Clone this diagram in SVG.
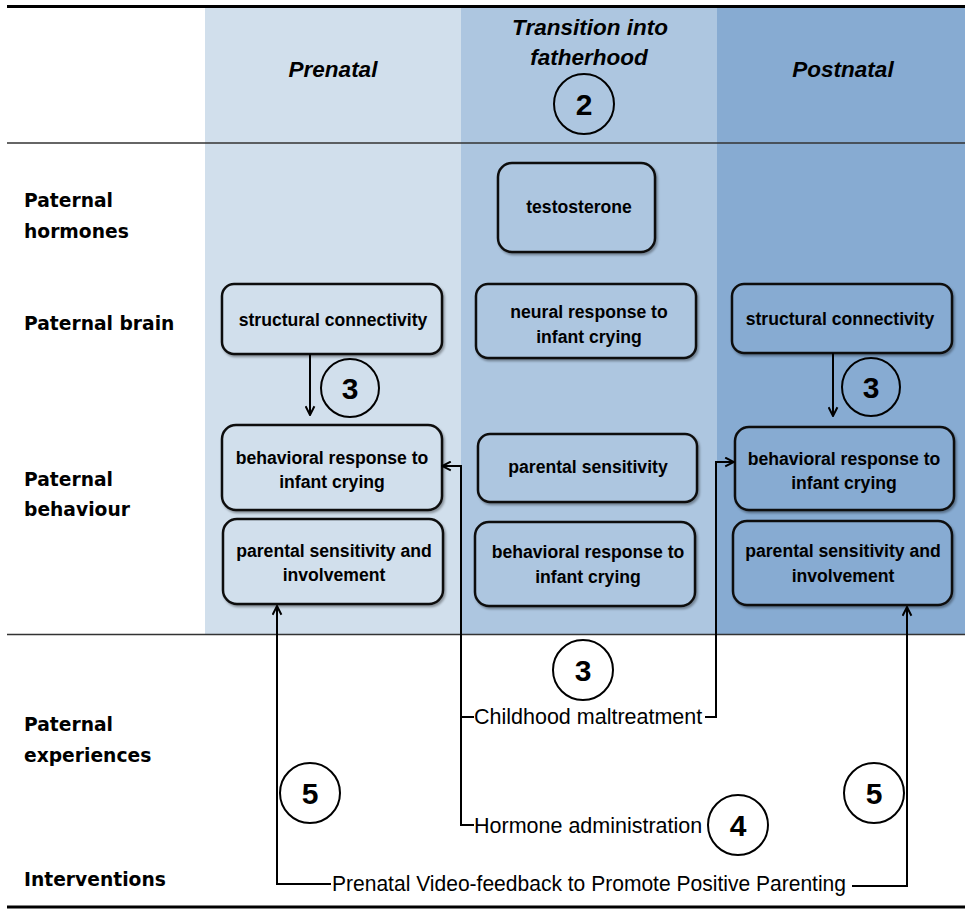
<svg xmlns="http://www.w3.org/2000/svg" width="965" height="909" viewBox="0 0 965 909">
<defs>
<style>
.hd{font-family:"Liberation Sans",Arial,sans-serif;font-weight:bold;font-style:italic;font-size:22.5px;fill:#000;text-anchor:middle}
.lb{font-family:"DejaVu Sans",Verdana,sans-serif;font-weight:bold;font-size:18.7px;fill:#000}
.bx{stroke:#111;stroke-width:2.5}
.bt{font-family:"Liberation Sans",Arial,sans-serif;font-weight:bold;font-size:17.6px;fill:#000;text-anchor:middle}
.ex{font-family:"Liberation Sans",Arial,sans-serif;font-size:21.5px;fill:#000}
.cn{fill:none;stroke:#000;stroke-width:2}
.ci{fill:none;stroke:#000;stroke-width:2}
.cl{font-family:"Liberation Sans",Arial,sans-serif;font-weight:bold;font-size:30px;fill:#000;text-anchor:middle}
.p1{fill:#D1DFEC}.p2{fill:#ADC6E0}.p3{fill:#87ABD2}
</style>
<filter id="sh" x="-10%" y="-10%" width="125%" height="130%">
<feDropShadow dx="1.5" dy="2" stdDeviation="1.2" flood-color="#000" flood-opacity="0.35"/>
</filter>
<marker id="ah" viewBox="0 0 10 10" refX="9" refY="5" markerWidth="11" markerHeight="11" markerUnits="userSpaceOnUse" orient="auto">
<path d="M1,1 L9,5 L1,9" fill="none" stroke="#000" stroke-width="1.8"/>
</marker>
</defs>

<g id="background">
<rect x="205" y="8" width="256" height="626" class="p1"/>
<rect x="461" y="8" width="256" height="626" class="p2"/>
<rect x="717" y="8" width="248" height="626" class="p3"/>
<line x1="7" y1="6.5" x2="965" y2="6.5" stroke="#000" stroke-width="3"/>
<line x1="7" y1="143" x2="965" y2="143" stroke="#333" stroke-width="1.5"/>
<line x1="7" y1="634.5" x2="965" y2="634.5" stroke="#333" stroke-width="1.5"/>
<line x1="7" y1="907" x2="965" y2="907" stroke="#000" stroke-width="3"/>
</g>

<g id="headers">
<text class="hd" x="333" y="77">Prenatal</text>
<text class="hd" x="590" y="35">Transition into</text>
<text class="hd" x="589" y="65">fatherhood</text>
<text class="hd" x="843" y="77">Postnatal</text>
<circle class="ci" cx="584" cy="104" r="30"/>
<text class="cl" x="584" y="115">2</text>
</g>

<g id="row-labels">
<text class="lb" x="24" y="207">Paternal</text>
<text class="lb" x="24" y="238">hormones</text>
<text class="lb" x="24" y="330">Paternal brain</text>
<text class="lb" x="24" y="486">Paternal</text>
<text class="lb" x="24" y="516">behaviour</text>
<text class="lb" x="24" y="731">Paternal</text>
<text class="lb" x="24" y="762">experiences</text>
<text class="lb" x="24" y="886">Interventions</text>
</g>

<g id="n-testosterone">
<rect class="bx p2" x="498" y="163" width="157" height="89" rx="14" filter="url(#sh)"/>
<text class="bt" x="579" y="213">testosterone</text>
</g>
<g id="n-neural">
<rect class="bx p2" x="476" y="284" width="220" height="74" rx="12" filter="url(#sh)"/>
<text class="bt" x="589" y="318">neural response to</text>
<text class="bt" x="589" y="343">infant crying</text>
</g>
<g id="n-struct-pre">
<rect class="bx p1" x="222" y="284" width="220" height="70" rx="12" filter="url(#sh)"/>
<text class="bt" x="333" y="326">structural connectivity</text>
</g>
<g id="n-struct-post">
<rect class="bx p3" x="732" y="284" width="220" height="69" rx="12" filter="url(#sh)"/>
<text class="bt" x="840" y="325">structural connectivity</text>
</g>
<g id="n-behav-pre">
<rect class="bx p1" x="222" y="425" width="220" height="85" rx="14" filter="url(#sh)"/>
<text class="bt" x="332" y="464">behavioral response to</text>
<text class="bt" x="332" y="488">infant crying</text>
</g>
<g id="n-sens-pre">
<rect class="bx p1" x="223" y="519" width="220" height="85" rx="14" filter="url(#sh)"/>
<text class="bt" x="334" y="557">parental sensitivity and</text>
<text class="bt" x="334" y="581">involvement</text>
</g>
<g id="n-sens-trans">
<rect class="bx p2" x="478" y="434" width="219" height="68" rx="12" filter="url(#sh)"/>
<text class="bt" x="588" y="473">parental sensitivity</text>
</g>
<g id="n-behav-trans">
<rect class="bx p2" x="475" y="522" width="220" height="84" rx="14" filter="url(#sh)"/>
<text class="bt" x="588" y="558">behavioral response to</text>
<text class="bt" x="588" y="583">infant crying</text>
</g>
<g id="n-behav-post">
<rect class="bx p3" x="735" y="427" width="219" height="83" rx="14" filter="url(#sh)"/>
<text class="bt" x="844" y="465">behavioral response to</text>
<text class="bt" x="844" y="489">infant crying</text>
</g>
<g id="n-sens-post">
<rect class="bx p3" x="733" y="521" width="219" height="84" rx="14" filter="url(#sh)"/>
<text class="bt" x="843" y="557">parental sensitivity and</text>
<text class="bt" x="843" y="582">involvement</text>
</g>

<g id="experiences">
<text class="ex" x="474" y="724">Childhood maltreatment</text>
<text class="ex" x="474" y="833">Hormone administration</text>
<text class="ex" x="332" y="891" textLength="514" lengthAdjust="spacingAndGlyphs">Prenatal Video-feedback to Promote Positive Parenting</text>
</g>

<g id="connectors">
<path class="cn" d="M310,354 V415" marker-end="url(#ah)"/>
<path class="cn" d="M833,353 V416" marker-end="url(#ah)"/>
<path class="cn" d="M474,825 H461 V466 H442" marker-end="url(#ah)"/>
<path class="cn" d="M461,717 H474"/>
<path class="cn" d="M705,717 H716 V462 H734" marker-end="url(#ah)"/>
<path class="cn" d="M331,884 H277 V606" marker-end="url(#ah)"/>
<path class="cn" d="M852,886 H907 V607" marker-end="url(#ah)"/>
</g>

<g id="markers">
<circle class="ci" cx="350" cy="388" r="29"/>
<text class="cl" x="350" y="399">3</text>
<circle class="ci" cx="871" cy="387" r="29"/>
<text class="cl" x="871" y="398">3</text>
<circle class="ci" cx="583" cy="670" r="30"/>
<text class="cl" x="583" y="681">3</text>
<circle class="ci" cx="738" cy="825" r="30"/>
<text class="cl" x="738" y="836">4</text>
<circle class="ci" cx="310" cy="793" r="30"/>
<text class="cl" x="310" y="804">5</text>
<circle class="ci" cx="874" cy="793" r="30"/>
<text class="cl" x="874" y="804">5</text>
</g>
</svg>
